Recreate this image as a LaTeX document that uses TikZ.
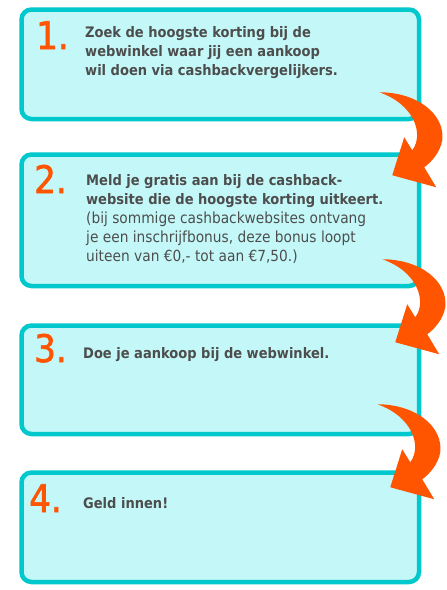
\documentclass[tikz,border=0pt]{standalone}
\usepackage{fontspec}
\setmainfont{DejaVu Sans Condensed}
\newfontfamily\numfont[FakeBold=1.6]{DejaVu Sans Condensed}
\usetikzlibrary{positioning}
\definecolor{boxfill}{HTML}{C4F8F8}
\definecolor{boxline}{HTML}{00C8CC}
\definecolor{numorange}{HTML}{FF5500}
\definecolor{textgray}{HTML}{4D4D4D}
\tikzset{
    stepbox/.style={draw=boxline, fill=boxfill, line width=4.5pt, rounded corners=10pt,
        minimum width=397.5pt, inner sep=0pt, anchor=north west},
    stepnum/.style={font=\numfont\fontsize{38}{38}\selectfont, text=numorange, anchor=base west, inner sep=0pt},
    steptext/.style={font=\fontsize{14.5}{19}\selectfont, text=textgray, anchor=base west,
        inner sep=0pt, align=left},
}
\newcommand{\plainline}[1]{{\fontsize{15.3}{19}\selectfont #1}}
\newcommand{\bentarrow}[1]{
    \fill[numorange, shift={(#1)}]
        (0,0) .. controls (38,0) and (66,22) .. (63,48)
        .. controls (61,60) and (52,70) .. (45,75)
        -- (57,95) -- (13,83) -- (25,45) -- (33,58)
        .. controls (45,42) and (35,12) .. (0,0) -- cycle;
}

\begin{document}
\begin{tikzpicture}[x=1pt,y=-1pt]
        \useasboundingbox (0,0) rectangle (447,590);
        % boxes
        \node[stepbox, minimum height=109.5pt] (step1) at (19.25,7.25) {};
        \node[stepbox, minimum height=131.5pt] (step2) at (19.25,152.25) {};
        \node[stepbox, minimum height=108.5pt] (step3) at (19.25,323.25) {};
        \node[stepbox, minimum height=109.5pt] (step4) at (19.25,470.25) {};
        % numbers
        \node[stepnum] (num1) at (36,49) {1.};
        \node[stepnum] (num2) at (34,193) {2.};
        \node[stepnum] (num3) at (34,362) {3.};
        \node[stepnum] (num4) at (29,512) {4.};
        % texts (base = last line)
        \node[steptext] (text1) at (85,75) {\textbf{Zoek de hoogste korting bij de}\\
            \textbf{webwinkel waar jij een aankoop}\\
            \textbf{wil doen via cashbackvergelijkers.}};
        \node[steptext] (text2) at (86,261) {\textbf{Meld je gratis aan bij de cashback-}\\
            \textbf{website die de hoogste korting uitkeert.}\\
            \plainline{(bij sommige cashbackwebsites ontvang}\\
            \plainline{je een inschrijfbonus, deze bonus loopt}\\
            \plainline{uiteen van €0,- tot aan €7,50.)}};
        \node[steptext] (text3) at (83,358) {\textbf{Doe je aankoop bij de webwinkel.}};
        \node[steptext] (text4) at (83,508) {\textbf{Geld innen!}};
        % arrows
        \coordinate (tail1) at ([shift={(-42,-29)}]step1.south east);
        \coordinate (tail2) at ([shift={(-39,-29)}]step2.south east);
        \coordinate (tail3) at ([shift={(-44,-32)}]step3.south east);
        \bentarrow{tail1}
        \bentarrow{tail2}
        \bentarrow{tail3}
\end{tikzpicture}
\end{document}
